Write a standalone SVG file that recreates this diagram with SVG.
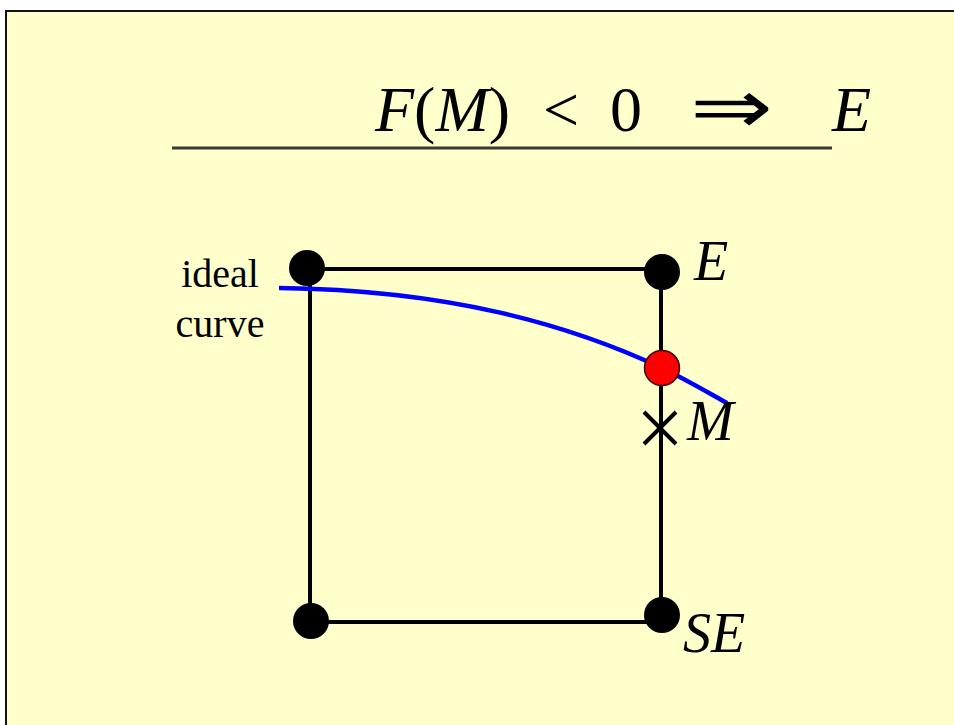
<svg xmlns="http://www.w3.org/2000/svg" width="954" height="725" viewBox="0 0 954 725">
<style>
.t{font-family:"Liberation Serif","Times New Roman",serif;fill:#000}
.it{font-style:italic}
.edge{stroke:#000;stroke-width:4;fill:none}
.dot{fill:#000}
</style>
<rect x="0" y="0" width="954" height="725" fill="#fff"/>
<rect x="6" y="11" width="960" height="730" fill="#FFFFCC" stroke="#111" stroke-width="2"/>
<g id="title">
<text class="t" font-size="64" y="131"><tspan x="375" class="it">F</tspan><tspan>(</tspan><tspan class="it">M</tspan><tspan>)</tspan></text>
<text class="t" font-size="64" x="543" y="131">&lt;</text>
<text class="t" font-size="64" x="610" y="131">0</text>
<text class="t" x="0" y="0" font-size="66" transform="translate(690,133) scale(1.5,1.15)">⇒</text>
<text class="t it" font-size="64" x="832" y="131">E</text>
<line x1="172" y1="148" x2="832" y2="148" stroke="#3a3a3a" stroke-width="3"/>
</g>
<g id="connectors">
<line class="edge" x1="308" y1="269" x2="662" y2="269"/>
<line class="edge" x1="310" y1="269" x2="310" y2="622"/>
<line class="edge" x1="661" y1="271" x2="661" y2="615"/>
<line class="edge" x1="310" y1="622" x2="661" y2="622"/>
</g>
<g id="ideal-curve">
<path d="M279,288 C450,290 570,325 662,368 C685,379 707,392 727,403" fill="none" stroke="#0000FF" stroke-width="4.5"/>
<text class="t" font-size="40" x="220" y="287" text-anchor="middle">ideal</text>
<text class="t" font-size="40" x="220" y="337" text-anchor="middle">curve</text>
</g>
<g id="node-nw"><circle class="dot" cx="307" cy="268" r="18"/></g>
<g id="node-e"><circle class="dot" cx="662" cy="272" r="18"/>
<text class="t it" font-size="56" x="694" y="280">E</text></g>
<g id="node-sw"><circle class="dot" cx="311" cy="621" r="18"/></g>
<g id="node-se"><circle class="dot" cx="662" cy="615" r="18"/>
<text class="t it" font-size="56" x="683" y="652">SE</text></g>
<g id="node-intersection"><circle cx="662" cy="368" r="17.5" fill="#FF0000" stroke="#400" stroke-width="1.5"/></g>
<g id="node-m">
<path d="M644,412 L676,444 M676,412 L644,444" stroke="#000" stroke-width="4" fill="none"/>
<text class="t it" font-size="56" x="687" y="440">M</text>
</g>
</svg>
